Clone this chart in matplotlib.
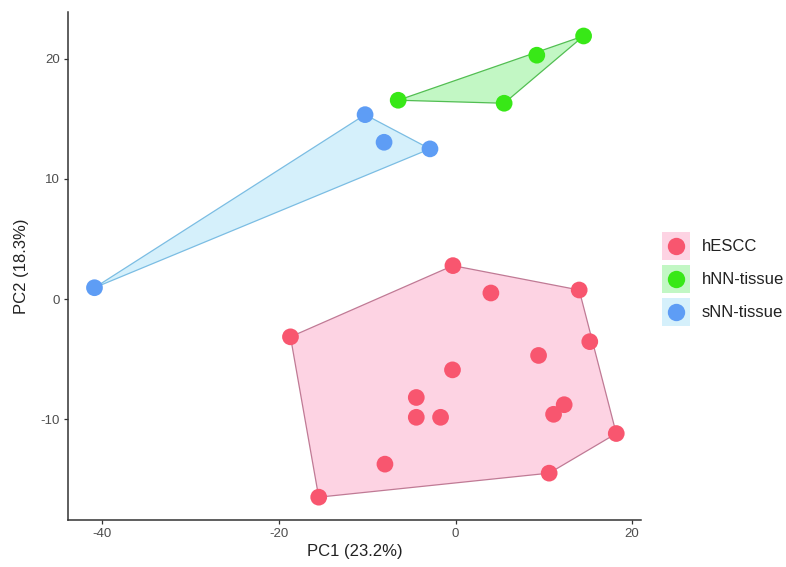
import matplotlib
matplotlib.use("Agg")
import matplotlib.pyplot as plt
from matplotlib.patches import Polygon, Rectangle
from matplotlib.lines import Line2D
from matplotlib.legend_handler import HandlerBase

plt.rcParams["font.family"] = ["Liberation Sans", "DejaVu Sans"]
plt.rcParams["axes.unicode_minus"] = False

groups = ["hESCC", "hNN-tissue", "sNN-tissue"]

hescc_x = [-0.3, 4.0, 14.0, -18.7, 15.2, 9.4, -0.35, -4.45, -4.45, -1.7, 12.3, 11.1, 18.2, -8.0, 10.6, -15.5]
hescc_y = [2.78, 0.5, 0.75, -3.15, -3.55, -4.7, -5.9, -8.2, -9.85, -9.85, -8.8, -9.6, -11.2, -13.75, -14.5, -16.5]

hnn_x = [-6.5, 5.5, 9.2, 14.5]
hnn_y = [16.55, 16.3, 20.3, 21.9]

snn_x = [-10.25, -8.1, -2.9, -40.9]
snn_y = [15.35, 13.05, 12.5, 0.94]

point_colors = ["#F8566F", "#38E817", "#5E9DF5"]
fill_colors = ["#FDD3E3", "#C2F7C4", "#D5F0FB"]
edge_colors = ["#C07A95", "#52BE52", "#7BBDE3"]

xlabel = "PC1 (23.2%)"
ylabel = "PC2 (18.3%)"


def convex_hull(xs, ys):
    pts = sorted(set(zip(xs, ys)))
    if len(pts) <= 2:
        return pts

    def cross(o, a, b):
        return (a[0] - o[0]) * (b[1] - o[1]) - (a[1] - o[1]) * (b[0] - o[0])

    lower = []
    for p in pts:
        while len(lower) >= 2 and cross(lower[-2], lower[-1], p) <= 0:
            lower.pop()
        lower.append(p)
    upper = []
    for p in reversed(pts):
        while len(upper) >= 2 and cross(upper[-2], upper[-1], p) <= 0:
            upper.pop()
        upper.append(p)
    return lower[:-1] + upper[:-1]


class KeyHandler(HandlerBase):
    def create_artists(self, legend, orig_handle, xdescent, ydescent, width, height, fontsize, trans):
        fc, pc = orig_handle
        rect = Rectangle((-xdescent, -ydescent), width, height, facecolor=fc,
                         edgecolor="none", transform=trans)
        dot = Line2D([width / 2 - xdescent], [height / 2 - ydescent], marker="o",
                     linestyle="none", markersize=12.5, markerfacecolor=pc,
                     markeredgecolor="none", transform=trans)
        return [rect, dot]


fig = plt.figure(figsize=(7.86, 5.67), dpi=100)
ax = fig.add_axes([0.0865, 0.0829, 0.729, 0.896])

data = [(hescc_x, hescc_y), (hnn_x, hnn_y), (snn_x, snn_y)]
for (xs, ys), fc, ec in zip(data, fill_colors, edge_colors):
    hull = convex_hull(xs, ys)
    ax.add_patch(Polygon(hull, closed=True, facecolor=fc, edgecolor=ec, linewidth=0.9, zorder=1))
for (xs, ys), pc in zip(data, point_colors):
    ax.scatter(xs, ys, s=145, color=pc, edgecolors="none", zorder=3)

ax.set_xlim(-43.9, 21.0)
ax.set_ylim(-18.4, 23.9)
ax.set_xticks([-40, -20, 0, 20])
ax.set_yticks([-10, 0, 10, 20])

for side in ["top", "right"]:
    ax.spines[side].set_visible(False)
for side in ["left", "bottom"]:
    ax.spines[side].set_color("#333333")
    ax.spines[side].set_linewidth(1.1)
ax.tick_params(axis="both", direction="out", length=3, width=0.9, color="#333333",
               labelsize=9.5, labelcolor="#4D4D4D", pad=3)
ax.set_xlabel(xlabel, fontsize=12, color="#222222", labelpad=3)
ax.set_ylabel(ylabel, fontsize=12, color="#222222", labelpad=8)

handles = [(fc, pc) for fc, pc in zip(fill_colors, point_colors)]
leg = fig.legend(handles, groups, loc="center left", bbox_to_anchor=(662 / 786, 1 - 279 / 567),
                 frameon=False, fontsize=12, handler_map={tuple: KeyHandler()},
                 handlelength=1.68, handleheight=2.21, handletextpad=0.72,
                 labelspacing=0.3, borderpad=0, borderaxespad=0)
for t in leg.get_texts():
    t.set_color("#222222")

fig.savefig("out.png", dpi=100, facecolor="white")
